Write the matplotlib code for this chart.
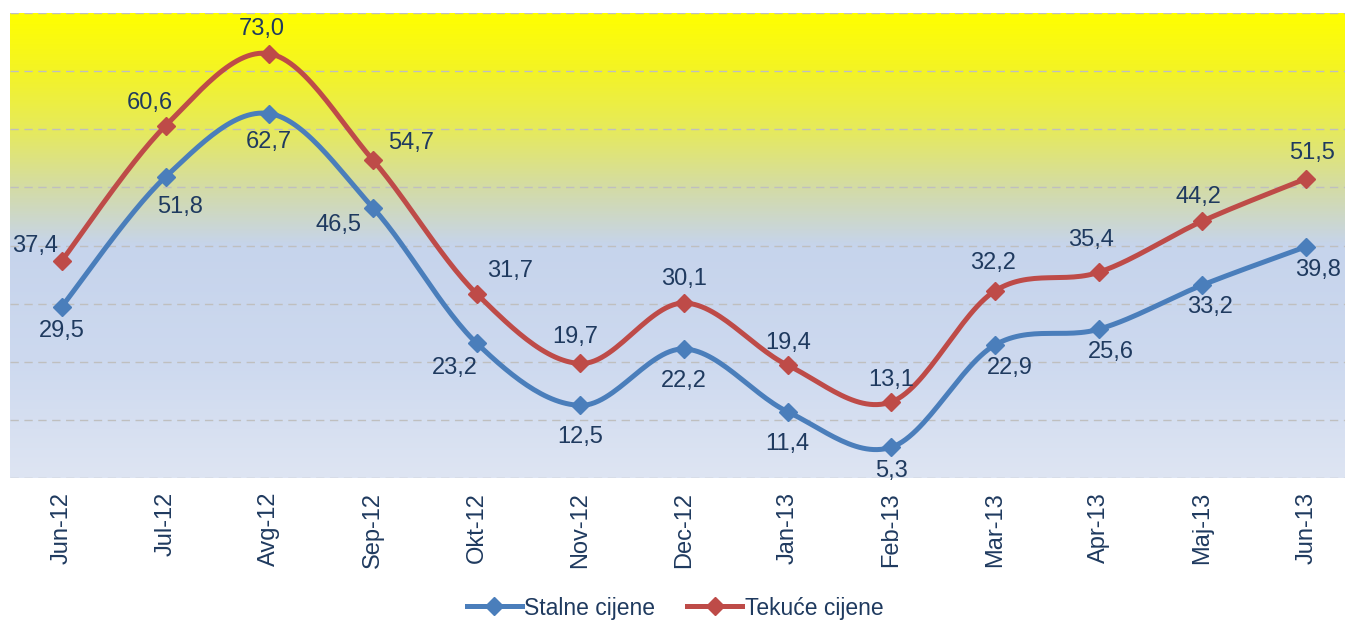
import numpy as np
import matplotlib
matplotlib.use("Agg")
import matplotlib.pyplot as plt
from matplotlib.colors import LinearSegmentedColormap

plt.rcParams['font.family'] = ['Liberation Sans', 'DejaVu Sans']

months = ["Jun-12", "Jul-12", "Avg-12", "Sep-12", "Okt-12", "Nov-12", "Dec-12",
          "Jan-13", "Feb-13", "Mar-13", "Apr-13", "Maj-13", "Jun-13"]
stalne = [29.5, 51.8, 62.7, 46.5, 23.2, 12.5, 22.2, 11.4, 5.3, 22.9, 25.6, 33.2, 39.8]
tekuce = [37.4, 60.6, 73.0, 54.7, 31.7, 19.7, 30.1, 19.4, 13.1, 32.2, 35.4, 44.2, 51.5]

# label offsets in pixels (dx, dy)
off_stalne = [(0, -24), (15, -30), (0, -28), (-34, -17), (-22, -25), (0, -32), (0, -32),
              (0, -32), (0, -24), (15, -23), (12, -23), (8, -22), (12, -23)]
off_tekuce = [(-27, 15), (-16, 23), (-7, 25), (38, 17), (33, 23), (-5, 26), (0, 24),
              (0, 22), (0, 22), (-2, 28), (-8, 32), (-4, 24), (6, 26)]

BLUE = "#4A7EBB"
RED = "#BE4B48"
TXT = "#1F3A5F"


def smooth(x, y, n=30):
    # Catmull-Rom style smoothing like Excel's "smoothed line"
    x = np.asarray(x, float)
    y = np.asarray(y, float)
    px = np.concatenate([[x[0]], x, [x[-1]]])
    py = np.concatenate([[y[0]], y, [y[-1]]])
    xs, ys = [], []
    t = np.linspace(0, 1, n)
    for i in range(1, len(px) - 2):
        p0, p1, p2, p3 = (np.array([px[j], py[j]]) for j in (i - 1, i, i + 1, i + 2))
        c1 = p1 + (p2 - p0) / 6
        c2 = p2 - (p3 - p1) / 6
        b = ((1 - t) ** 3)[:, None] * p1 + (3 * (1 - t) ** 2 * t)[:, None] * c1 \
            + (3 * (1 - t) * t ** 2)[:, None] * c2 + (t ** 3)[:, None] * p2
        xs.append(b[:, 0])
        ys.append(b[:, 1])
    return np.concatenate(xs), np.concatenate(ys)


fig = plt.figure(figsize=(13.45, 6.22), dpi=100)
ax = fig.add_axes([10 / 1345, 144 / 622, 1348 / 1345, 465 / 622])
ax.set_xlim(-0.5, 12.5)
ax.set_ylim(0, 80)

# background gradient
cmap = LinearSegmentedColormap.from_list("bg", [
    (0.0, "#DEE5F3"), (0.25, "#CDD9EF"), (0.5, "#C6D4EC"),
    (0.62, "#D3DBA8"), (0.75, "#E6EA5C"), (0.88, "#F4F424"), (1.0, "#FFFF00")])
grad = np.linspace(0, 1, 256).reshape(-1, 1)
ax.imshow(grad, cmap=cmap, origin="lower", aspect="auto",
          extent=[-0.5, 12.5, 0, 80], zorder=0)

for v in range(0, 90, 10):
    ax.axhline(v, color="#BFBFBF", lw=1, ls=(0, (6, 4)), zorder=1)

x = np.arange(len(months))
for vals, col, lab in [(stalne, BLUE, "Stalne cijene"), (tekuce, RED, "Tekuće cijene")]:
    sx, sy = smooth(x, vals)
    ax.plot(sx, sy, color=col, lw=3.6, zorder=3, solid_capstyle="round")
    ax.plot(x, vals, ls="none", marker="D", ms=9.5, color=col, zorder=4)
    ax.plot([], [], color=col, lw=3.6, marker="D", ms=9.5, label=lab)

for i, v in enumerate(stalne):
    ax.annotate(f"{v:.1f}".replace(".", ","), (i, v), xytext=off_stalne[i],
                textcoords="offset pixels", ha="center", va="center",
                fontsize=17, color=TXT, zorder=5)
for i, v in enumerate(tekuce):
    ax.annotate(f"{v:.1f}".replace(".", ","), (i, v), xytext=off_tekuce[i],
                textcoords="offset pixels", ha="center", va="center",
                fontsize=17, color=TXT, zorder=5)

ax.set_xticks(x)
ax.set_xticklabels(months, rotation=90, fontsize=17, color=TXT, va="top")
ax.tick_params(axis="x", length=0, pad=10)
ax.set_yticks([])
for s in ax.spines.values():
    s.set_visible(False)

fig.legend(loc="center", bbox_to_anchor=(675 / 1345, 14 / 622), ncol=2, frameon=False,
           fontsize=16.5, handlelength=2.4, handletextpad=0.1, columnspacing=1.4,
           labelcolor=TXT, borderpad=0)

fig.savefig("out.png", dpi=100)
